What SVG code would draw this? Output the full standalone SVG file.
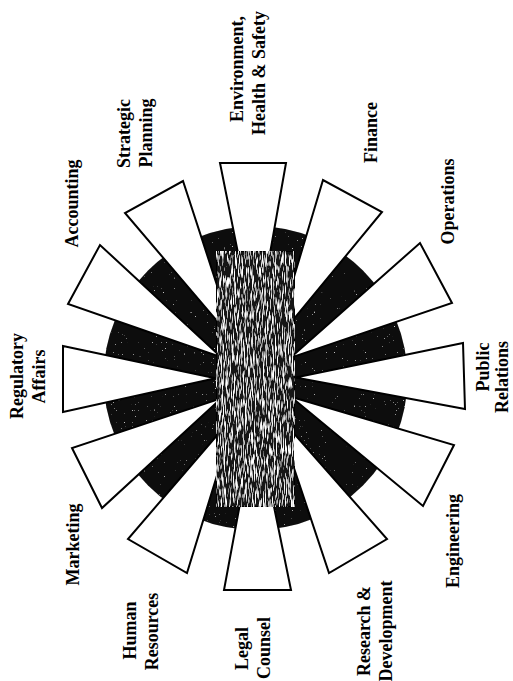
<svg xmlns="http://www.w3.org/2000/svg" width="513" height="681" viewBox="0 0 513 681">
  <style>
    .spoke { fill: #ffffff; stroke: #000000; stroke-width: 2; stroke-linejoin: miter; }
    .lbl { font-family: "Liberation Serif", "Times New Roman", serif; font-weight: bold; font-size: 18px; fill: #000000; text-anchor: middle; }
  </style>
  <defs>
    <!-- fine vertical streaky speckle for the central block -->
    <filter id="streaks" x="0" y="0" width="1" height="1">
      <feTurbulence type="fractalNoise" baseFrequency="1.1 0.09" numOctaves="2" seed="7" result="noise"/>
      <feColorMatrix in="noise" type="matrix" values="0 0 0 0 1  0 0 0 0 1  0 0 0 0 1  5 0 0 0 -2.45" result="specks"/>
      <feComposite in="specks" in2="SourceGraphic" operator="in" result="clipped"/>
      <feMerge><feMergeNode in="SourceGraphic"/><feMergeNode in="clipped"/></feMerge>
    </filter>
    <!-- sparse speckle for the dark disk -->
    <filter id="grain" x="0" y="0" width="1" height="1">
      <feTurbulence type="fractalNoise" baseFrequency="0.9 0.5" numOctaves="1" seed="3" result="noise"/>
      <feColorMatrix in="noise" type="matrix" values="0 0 0 0 1  0 0 0 0 1  0 0 0 0 1  6 0 0 0 -4.4" result="specks"/>
      <feComposite in="specks" in2="SourceGraphic" operator="in" result="clipped"/>
      <feMerge><feMergeNode in="SourceGraphic"/><feMergeNode in="clipped"/></feMerge>
    </filter>
  </defs>

  <rect x="0" y="0" width="513" height="681" fill="#ffffff"/>

  <!-- hub backdrop -->
  <g id="hub-disk">
    <circle cx="255.5" cy="378" r="152" fill="#0a0a0a" filter="url(#grain)"/>
  </g>

  <!-- departments: spoke + label -->
  <g id="environment-health-safety">
    <polygon class="spoke" points="255,338 220,163 286,163"/>
    <text class="lbl" transform="translate(243,69) rotate(-90)">Environment,</text>
    <text class="lbl" transform="translate(265,73) rotate(-90)">Health &amp; Safety</text>
  </g>
  <g id="finance">
    <polygon class="spoke" points="274.3,342.7 323,180 382,212"/>
    <text class="lbl" transform="translate(376.5,132.5) rotate(-90)">Finance</text>
  </g>
  <g id="operations">
    <polygon class="spoke" points="290.1,357.9 420,243 452,303"/>
    <text class="lbl" transform="translate(454,201.5) rotate(-90)">Operations</text>
  </g>
  <g id="public-relations">
    <polygon class="spoke" points="295.5,377.6 463,343 465,409"/>
    <text class="lbl" transform="translate(489,367) rotate(-90)">Public</text>
    <text class="lbl" transform="translate(508,377) rotate(-90)">Relations</text>
  </g>
  <g id="engineering">
    <polygon class="spoke" points="290.8,396.8 454,445 423,506"/>
    <text class="lbl" transform="translate(459,541) rotate(-90)">Engineering</text>
  </g>
  <g id="research-development">
    <polygon class="spoke" points="275.5,412.7 387,539 329,573"/>
    <text class="lbl" transform="translate(370,631) rotate(-90)">Research &amp;</text>
    <text class="lbl" transform="translate(392,631) rotate(-90)">Development</text>
  </g>
  <g id="legal-counsel">
    <polygon class="spoke" points="255.9,418 291,590 224,590"/>
    <text class="lbl" transform="translate(247.5,648.5) rotate(-90)">Legal</text>
    <text class="lbl" transform="translate(270,648) rotate(-90)">Counsel</text>
  </g>
  <g id="human-resources">
    <polygon class="spoke" points="236.2,413 187,573 128,539"/>
    <text class="lbl" transform="translate(135.5,630.5) rotate(-90)">Human</text>
    <text class="lbl" transform="translate(158,631.5) rotate(-90)">Resources</text>
  </g>
  <g id="marketing">
    <polygon class="spoke" points="221.1,398.4 102,508 72,448"/>
    <text class="lbl" transform="translate(79,544.5) rotate(-90)">Marketing</text>
  </g>
  <g id="regulatory-affairs">
    <polygon class="spoke" points="215.5,378.2 63,412 63,346"/>
    <text class="lbl" transform="translate(22.5,376) rotate(-90)">Regulatory</text>
    <text class="lbl" transform="translate(45,376.5) rotate(-90)">Affairs</text>
  </g>
  <g id="accounting">
    <polygon class="spoke" points="221.3,357.3 68,304 100,245"/>
    <text class="lbl" transform="translate(78,203.5) rotate(-90)">Accounting</text>
  </g>
  <g id="strategic-planning">
    <polygon class="spoke" points="235.9,343.1 125,213 183,181"/>
    <text class="lbl" transform="translate(130,133.5) rotate(-90)">Strategic</text>
    <text class="lbl" transform="translate(152,133) rotate(-90)">Planning</text>
  </g>

  <!-- central block -->
  <g id="hub-core">
    <rect x="216" y="251" width="79" height="256" fill="#151515" stroke="#000000" stroke-width="1.5" filter="url(#streaks)"/>
  </g>
</svg>
